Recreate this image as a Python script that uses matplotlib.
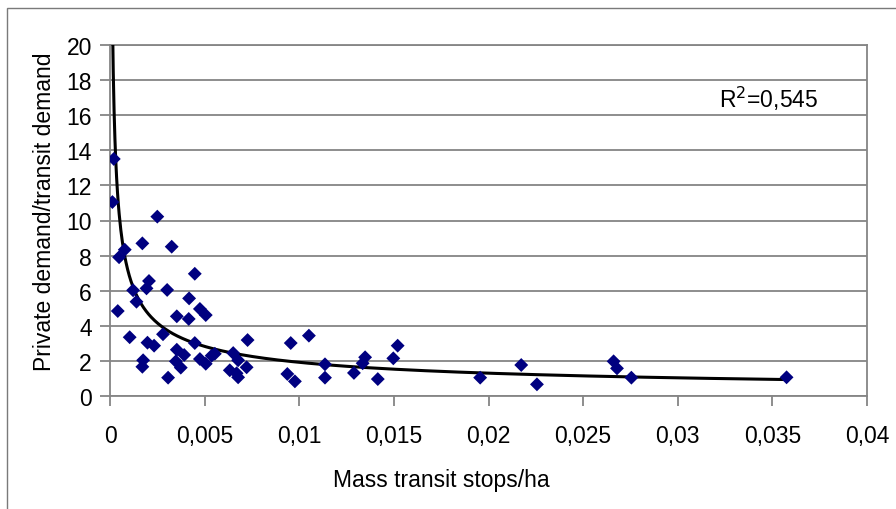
#!/usr/bin/env python3

import matplotlib

matplotlib.use("Agg")
import matplotlib.pyplot as plt
import numpy as np
from matplotlib.patches import Rectangle
from matplotlib.ticker import FuncFormatter

plt.rcParams["font.family"] = ["Liberation Sans", "DejaVu Sans"]

# stops per hectare (x) vs private/transit demand ratio (y)
stops_per_ha = [
    0.000127, 0.0002, 0.00041, 0.00048, 0.00078, 0.00104, 0.00122, 0.0014,
    0.00171, 0.00171, 0.00175, 0.00193, 0.00198, 0.00206, 0.00233, 0.0025,
    0.0028, 0.00302, 0.00307, 0.00326, 0.00348, 0.00353, 0.00353, 0.00374,
    0.00392, 0.00416, 0.00418, 0.00448, 0.00448, 0.00475, 0.00475, 0.00506,
    0.00506, 0.00537, 0.00554, 0.00633, 0.00651, 0.00669, 0.00677, 0.00677,
    0.00722, 0.00727, 0.00937, 0.00955, 0.00977, 0.01051, 0.01136, 0.01136,
    0.01289, 0.01335, 0.01348, 0.01415, 0.01497, 0.0152, 0.01956, 0.02173,
    0.02256, 0.02661, 0.02679, 0.02755, 0.03575,
]
demand_ratio = [
    11.05, 13.5, 4.85, 7.91, 8.34, 3.36, 6.03, 5.38,
    8.70, 1.68, 2.05, 6.14, 3.05, 6.56, 2.88, 10.22,
    3.53, 6.05, 1.06, 8.51, 1.99, 4.55, 2.65, 1.63,
    2.35, 4.40, 5.57, 6.97, 3.03, 4.97, 2.12, 4.62,
    1.85, 2.31, 2.42, 1.48, 2.46, 1.31, 2.05, 1.08,
    1.65, 3.20, 1.27, 3.03, 0.85, 3.45, 1.82, 1.06,
    1.33, 1.88, 2.22, 0.98, 2.16, 2.88, 1.06, 1.78,
    0.68, 1.99, 1.59, 1.06, 1.08,
]
x_ticks = [0, 0.005, 0.01, 0.015, 0.02, 0.025, 0.03, 0.035, 0.04]
y_ticks = list(range(0, 21, 2))
r2_label = "R$^2$=0,545"

# power trendline y = a * x^b, coefficients estimated from the drawn curve
TREND_COEF = 0.15
TREND_EXP = -0.555

GRID = "#858585"
FS = 16.5


def comma_fmt(val, pos):
    if val == 0:
        return "0"
    return f"{val:g}".replace(".", ",")


def main():
    x = np.array(stops_per_ha)
    y = np.array(demand_ratio)

    xs = np.linspace(x.min(), x.max(), 800)
    ys = TREND_COEF * xs ** TREND_EXP

    fig = plt.figure(figsize=(8.96, 5.10), dpi=100)
    fig.patches.append(
        Rectangle((6.5 / 896, -0.1), 1.2, 1.1 - 9.3 / 510,
                  transform=fig.transFigure, fill=False,
                  edgecolor="#7a7a7a", linewidth=1.0)
    )
    ax = fig.add_axes([110 / 896, 1 - 397.3 / 510, (867 - 110) / 896, (397.3 - 45.7) / 510])

    ax.set_xlim(0, 0.04)
    ax.set_ylim(0, 20)
    ax.set_xticks(x_ticks)
    ax.set_yticks(y_ticks)
    ax.xaxis.set_major_formatter(FuncFormatter(comma_fmt))
    ax.grid(axis="y", color=GRID, linewidth=1.3)
    ax.set_axisbelow(True)
    for side in ax.spines.values():
        side.set_color(GRID)
        side.set_linewidth(1.3)
    ax.tick_params(axis="both", colors=GRID, labelcolor="black", labelsize=FS,
                   length=7, width=1.3)
    ax.tick_params(axis="x", pad=13)
    ax.tick_params(axis="y", pad=6)

    ax.plot(xs, ys, color="black", linewidth=2.2, zorder=3)
    ax.scatter(x, y, marker="D", s=50, color="#000080", edgecolors="none", zorder=4)

    ax.text(0.0322, 17.0, r2_label, fontsize=FS, va="center", ha="left")

    ax.set_xlabel("Mass transit stops/ha", fontsize=FS)
    ax.xaxis.set_label_coords(0.438, -0.205)
    ax.set_ylabel("Private demand/transit demand", fontsize=FS)
    ax.yaxis.set_label_coords(-0.0713, 0.527)

    fig.savefig("out.png", dpi=100, facecolor="white")
    plt.close(fig)


if __name__ == "__main__":
    main()
